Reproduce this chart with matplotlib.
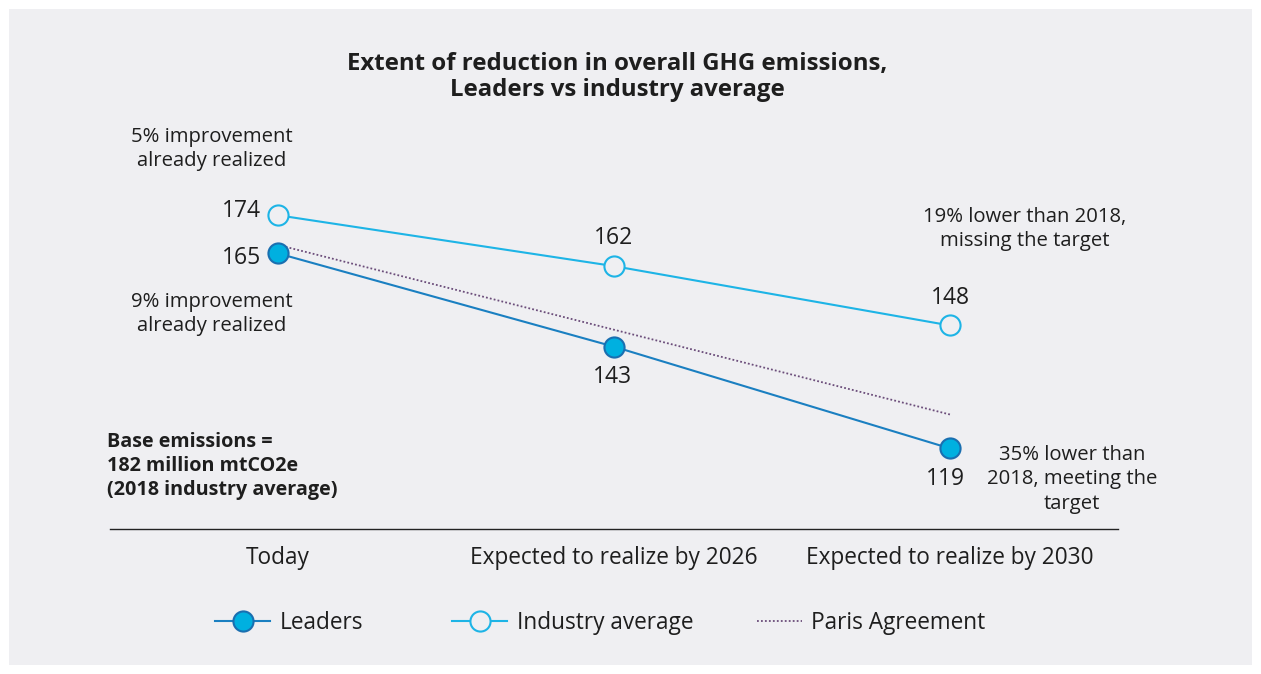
import matplotlib
matplotlib.use("Agg")
from matplotlib import pyplot as plt
from matplotlib.lines import Line2D
from matplotlib.patches import Rectangle

# data
categories = ["Today", "Expected to realize by 2026", "Expected to realize by 2030"]
leaders = [165, 143, 119]
industry = [174, 162, 148]
paris = [167, 127]          # only start and end points
paris_idx = [0, 2]
legend_names = ["Leaders", "Industry average", "Paris Agreement"]

bg = "#efeff2"
txt = "#1e1e1e"
c_lead_line = "#1a7fc1"
c_lead_face = "#00b0e0"
c_lead_edge = "#1a6fb0"
c_ind = "#1db4e6"
c_paris = "#6b4d7a"

plt.rcParams['font.family'] = ['Open Sans', 'DejaVu Sans']

fig = plt.figure(figsize=(12.61, 6.74), dpi=100)
fig.patch.set_facecolor("white")
fig.patches.append(Rectangle((9/1261, 9/674), 1243/1261, 656/674, transform=fig.transFigure,
                             facecolor=bg, edgecolor="none", zorder=-10))

ax = fig.add_axes([110/1261, 145/674, 1008/1261, 339.2/674])
ax.set_facecolor("none")
x = list(range(len(categories)))

ax.plot(paris_idx, paris, color=c_paris, lw=1.3, ls=(0, (1, 1.2)), zorder=2)
ax.plot(x, industry, color=c_ind, lw=1.5, marker="o", ms=14.5, mfc=bg, mec=c_ind, mew=1.5, zorder=3)
ax.plot(x, leaders, color=c_lead_line, lw=1.5, marker="o", ms=14.5, mfc=c_lead_face, mec=c_lead_edge, mew=1.5, zorder=4)

ax.set_xlim(-0.5, 2.5)
ax.set_ylim(100, 180)
for s in ["top", "right", "left"]:
    ax.spines[s].set_visible(False)
ax.spines["bottom"].set_color("#222222")
ax.spines["bottom"].set_linewidth(1)
ax.set_yticks([])
ax.set_xticks(x)
ax.set_xticklabels(categories, fontsize=16.3, color=txt)
ax.tick_params(axis="x", length=0, pad=12)

# value labels
lab = dict(fontsize=16.5, color=txt, textcoords="offset points")
ax.annotate(str(industry[0]), (0, industry[0]), xytext=(-12, 3), ha="right", va="center", **lab)
ax.annotate(str(leaders[0]), (0, leaders[0]), xytext=(-12, -3), ha="right", va="center", **lab)
ax.annotate(str(industry[1]), (1, industry[1]), xytext=(0, 20), ha="center", va="center", **lab)
ax.annotate(str(industry[2]), (2, industry[2]), xytext=(0, 20), ha="center", va="center", **lab)
ax.annotate(str(leaders[1]), (1, leaders[1]), xytext=(-1, -22), ha="center", va="center", **lab)
ax.annotate(str(leaders[2]), (2, leaders[2]), xytext=(-3, -22), ha="center", va="center", **lab)

def ftext(px, py, s, **kw):
    fig.text(px / 1261, 1 - py / 674, s, color=txt, **kw)

ftext(617, 77, "Extent of reduction in overall GHG emissions,\nLeaders vs industry average",
      ha="center", va="center", fontsize=17.3, fontweight="bold", linespacing=1.1)
ftext(212, 149, "5% improvement\nalready realized", ha="center", va="center", fontsize=14.6, linespacing=1.3)
ftext(212, 314, "9% improvement\nalready realized", ha="center", va="center", fontsize=14.6, linespacing=1.3)
ftext(1025, 229, "19% lower than 2018,\nmissing the target", ha="center", va="center", fontsize=14.6, linespacing=1.3)
ftext(1072, 479, "35% lower than\n2018, meeting the\ntarget", ha="center", va="center", fontsize=14.6, linespacing=1.3)
ftext(107, 466, "Base emissions =\n182 million mtCO2e\n(2018 industry average)", ha="left", va="center",
      fontsize=14.2, fontweight="bold", linespacing=1.25)

# legend: one small legend per entry so the gaps can follow the reference
handles = [
    Line2D([], [], color=c_lead_line, lw=1.5, marker="o", ms=14.5, mfc=c_lead_face, mec=c_lead_edge, mew=1.5),
    Line2D([], [], color=c_ind, lw=1.5, marker="o", ms=14.5, mfc=bg, mec=c_ind, mew=1.5),
    Line2D([], [], color=c_paris, lw=1.3, ls=(0, (1, 1.2))),
]
leg_x = [215, 452, 757]
leg_len = [2.44, 2.44, 1.98]
for h, name, lx, hl in zip(handles, legend_names, leg_x, leg_len):
    leg = fig.legend([h], [name], loc="center left", bbox_to_anchor=(lx / 1261, 1 - 623 / 674),
                     frameon=False, fontsize=16.3, handlelength=hl, handletextpad=0.42,
                     borderpad=0, borderaxespad=0)
    for t in leg.get_texts():
        t.set_color(txt)

fig.savefig("out.png", dpi=100, facecolor=fig.get_facecolor())
